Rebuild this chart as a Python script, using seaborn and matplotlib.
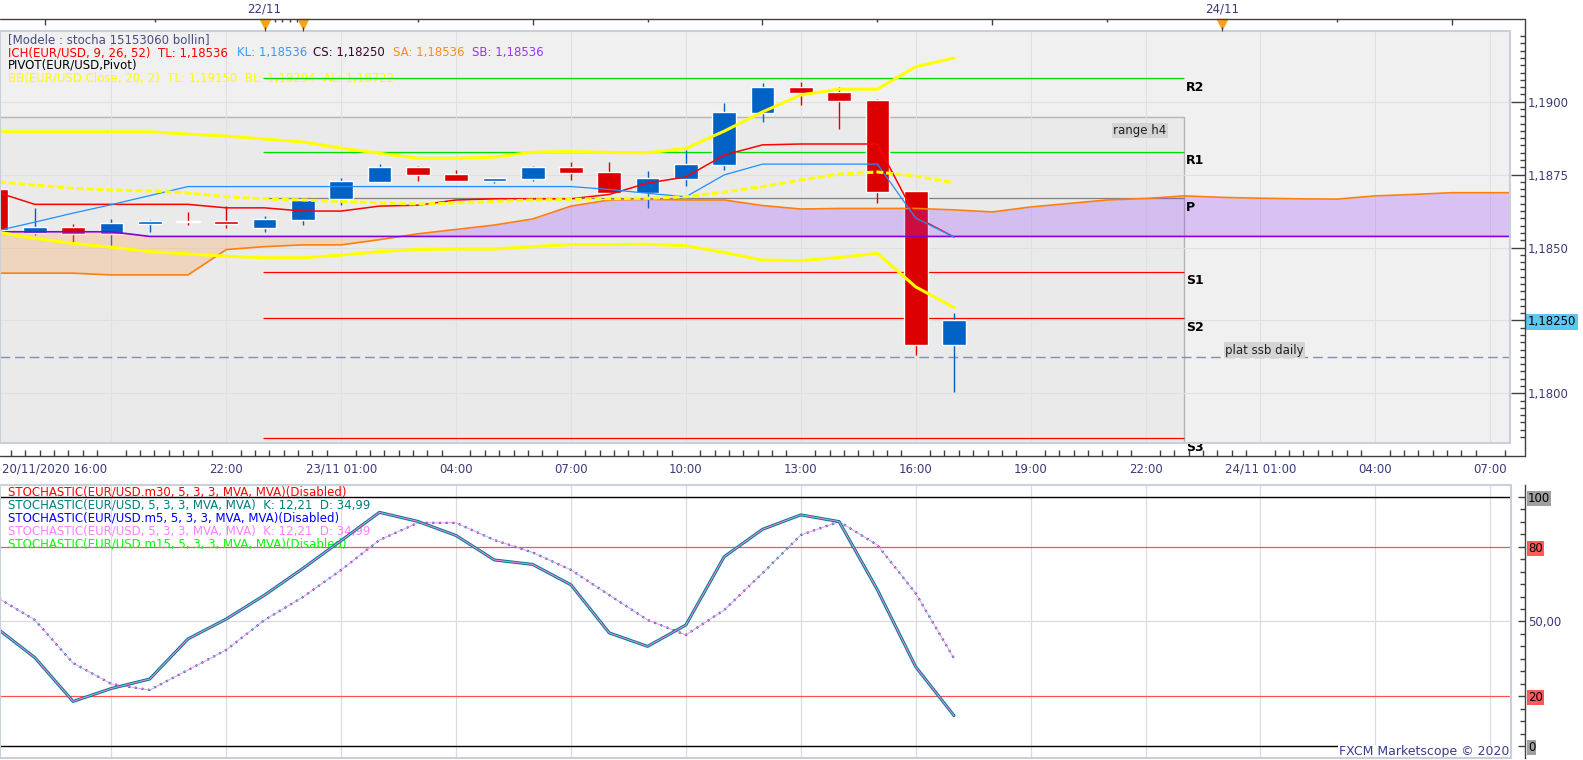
import numpy as np
import matplotlib
matplotlib.use("Agg")
import matplotlib.pyplot as plt
import seaborn as sns
from matplotlib.patches import Rectangle
from matplotlib.lines import Line2D
from matplotlib.ticker import MultipleLocator, FixedLocator

sns.set_theme(style="white")
plt.rcParams['font.family'] = ['DejaVu Sans']

# hourly EUR/USD bars, bar 0 = 20/11/2020 16:00 ... bar 25 = 23/11 17:00
opens = [1.18701, 1.18551, 1.18570, 1.18547, 1.18582, 1.18591, 1.18591, 1.18568, 1.18595, 1.18665,
         1.18726, 1.18776, 1.18752, 1.18729, 1.18735, 1.18776, 1.18759, 1.18688, 1.18735, 1.18783,
         1.18962, 1.19050, 1.19033, 1.19006, 1.18694, 1.18166]
highs = [1.18705, 1.18636, 1.18581, 1.18598, 1.18593, 1.18622, 1.18642, 1.18608, 1.18667, 1.18738,
         1.18786, 1.18778, 1.18766, 1.18740, 1.18778, 1.18793, 1.18794, 1.18762, 1.18834, 1.18997,
         1.19064, 1.19068, 1.19049, 1.19009, 1.18694, 1.18274]
lows = [1.18555, 1.18543, 1.18520, 1.18506, 1.18554, 1.18577, 1.18568, 1.18554, 1.18578, 1.18647,
        1.18725, 1.18728, 1.18728, 1.18722, 1.18729, 1.18731, 1.18682, 1.18636, 1.18711, 1.18766,
        1.18930, 1.18989, 1.18906, 1.18652, 1.18131, 1.18006]
closes = [1.18560, 1.18570, 1.18547, 1.18584, 1.18591, 1.18587, 1.18582, 1.18598, 1.18663, 1.18728,
          1.18776, 1.18750, 1.18729, 1.18738, 1.18776, 1.18757, 1.18688, 1.18738, 1.18786, 1.18965,
          1.19050, 1.19031, 1.19002, 1.18690, 1.18166, 1.18250]

# ichimoku
tenkan = [1.18690, 1.18648, 1.18648, 1.18648, 1.18648, 1.18648, 1.18636, 1.18636, 1.18625, 1.18625,
          1.18642, 1.18645, 1.18663, 1.18667, 1.18667, 1.18667, 1.18682, 1.18721, 1.18742, 1.18817,
          1.18852, 1.18855, 1.18855, 1.18855, 1.18605, 1.18536]
kijun = [1.18557, 1.18587, 1.18618, 1.18647, 1.18678, 1.18709, 1.18709, 1.18709, 1.18709, 1.18709,
         1.18709, 1.18709, 1.18709, 1.18709, 1.18709, 1.18709, 1.18699, 1.18686, 1.18674, 1.18749,
         1.18786, 1.18786, 1.18786, 1.18786, 1.18601, 1.18536]
span_a = [1.18412, 1.18412, 1.18412, 1.18406, 1.18406, 1.18406, 1.18493, 1.18503, 1.18509, 1.18509,
          1.18527, 1.18547, 1.18562, 1.18577, 1.18598, 1.18642, 1.18663, 1.18665, 1.18663, 1.18663,
          1.18644, 1.18632, 1.18634, 1.18634, 1.18634, 1.18629, 1.18622, 1.18639, 1.18651, 1.18663,
          1.18668, 1.18677, 1.18672, 1.18669, 1.18667, 1.18666, 1.18677, 1.18682, 1.18688, 1.18688,
          1.18688]
span_b = [1.18554, 1.18554, 1.18554, 1.18554, 1.18538, 1.18538, 1.18538, 1.18538, 1.18538, 1.18538,
          1.18538, 1.18538, 1.18538, 1.18538, 1.18538, 1.18538, 1.18538, 1.18538, 1.18538, 1.18538,
          1.18538, 1.18538, 1.18538, 1.18538, 1.18538, 1.18538, 1.18538, 1.18538, 1.18538, 1.18538,
          1.18538, 1.18538, 1.18538, 1.18538, 1.18538, 1.18538, 1.18538, 1.18538, 1.18538, 1.18538,
          1.18538]

# bollinger 20,2
bb_up = [1.18897, 1.18897, 1.18897, 1.18897, 1.18897, 1.18889, 1.18882, 1.18872, 1.18862, 1.18841,
         1.18823, 1.18806, 1.18806, 1.18810, 1.18827, 1.18829, 1.18826, 1.18825, 1.18840, 1.18899,
         1.18965, 1.19023, 1.19043, 1.19043, 1.19120, 1.19150]
bb_mid = [1.18726, 1.18714, 1.18703, 1.18697, 1.18694, 1.18687, 1.18674, 1.18667, 1.18663, 1.18658,
          1.18653, 1.18649, 1.18653, 1.18658, 1.18663, 1.18665, 1.18668, 1.18669, 1.18674, 1.18690,
          1.18709, 1.18731, 1.18752, 1.18759, 1.18745, 1.18722]
bb_low = [1.18554, 1.18531, 1.18514, 1.18501, 1.18486, 1.18478, 1.18470, 1.18465, 1.18465, 1.18474,
          1.18486, 1.18493, 1.18495, 1.18495, 1.18503, 1.18510, 1.18510, 1.18511, 1.18506, 1.18483,
          1.18457, 1.18455, 1.18466, 1.18480, 1.18365, 1.18294]

pivot_names = ['R2', 'R1', 'P', 'S1', 'S2', 'S3']
pivot_levels = [1.19080, 1.18829, 1.18669, 1.18417, 1.18257, 1.17846]
pivot_colors = ['#00dd00', '#00dd00', '#808080', '#ff0000', '#ff0000', '#ff0000']
ssb_daily = 1.18123

# stochastic 5,3,3
stoch_k = [47.4, 35.5, 17.9, 23.1, 26.9, 43.0, 51.0, 60.6, 71.3, 82.5,
           93.8, 90.2, 84.5, 74.7, 72.9, 64.7, 45.4, 40.0, 48.6, 76.0,
           87.0, 92.8, 90.1, 62.7, 31.8, 12.2]
stoch_d = [59.8, 50.6, 33.3, 24.9, 22.5, 30.5, 38.6, 50.6, 59.8, 70.7,
           82.7, 89.6, 89.6, 82.7, 77.7, 70.7, 60.6, 50.6, 44.6, 54.6,
           69.4, 84.7, 90.1, 80.7, 61.3, 35.2]

time_ticks = [3, 6, 9, 12, 15, 18, 21, 24, 27, 30, 33, 36, 39]
time_labels = ['', '22:00', '23/11 01:00', '04:00', '07:00', '10:00', '13:00', '16:00',
               '19:00', '22:00', '24/11 01:00', '04:00', '07:00']
price_ticks = [1.18, 1.1825, 1.185, 1.1875, 1.19]
price_labels = ['1,1800', '1,18250', '1,1850', '1,1875', '1,1900']
stoch_ticks = [0, 20, 50, 80, 100]
stoch_labels = ['0', '20', '50,00', '80', '100']

bars = np.arange(len(opens))
cloud_x = np.arange(len(span_a))

W, H = 1583, 760
def box(x0, y0, x1, y1):
    return [x0 / W, 1 - y1 / H, (x1 - x0) / W, (y1 - y0) / H]

fig = plt.figure(figsize=(W / 100, H / 100), dpi=100)
fig.patch.set_facecolor('white')
ax = fig.add_axes(box(0, 31, 1510, 443))
ax2 = fig.add_axes(box(0, 485, 1511, 758))

navy = '#3a3a78'
frame = '#404040'
fs = 8.5

# ---------------- price panel
ax.set_facecolor('#f0f0f0')
ax.set_axisbelow(True)
ax.add_patch(Rectangle((-1, 1.17), 32.0, 1.18948 - 1.17, fc='#eaeaea', ec='#b4b4b4', lw=1, zorder=0.3))

for lvl, col in zip(pivot_levels, pivot_colors):
    ax.hlines(lvl, 6.95, 31.0, color=col, lw=0.9, zorder=1.8)
ax.axhline(ssb_daily, color='#8090b0', lw=1, ls=(0, (7, 3.5)), zorder=1.8)

ohlc_col = ['#0062c4' if cl >= op else '#dd0000' for op, cl in zip(opens, closes)]
body_lo = np.minimum(opens, closes)
body_h = np.maximum(np.abs(np.array(closes) - np.array(opens)), 0.00005)
ax.vlines(bars, lows, highs, colors=ohlc_col, lw=1, zorder=1.9)
ax.bar(bars, body_h, bottom=body_lo, width=0.62, color=ohlc_col, zorder=2)

sa = np.array(span_a); sb = np.array(span_b)
ax.fill_between(cloud_x, sa, sb, where=sa >= sb, interpolate=True, color='#963aff', alpha=0.25, lw=0, zorder=3)
ax.fill_between(cloud_x, sa, sb, where=sa < sb, interpolate=True, color='#ff9a3a', alpha=0.25, lw=0, zorder=3)
sns.lineplot(x=cloud_x, y=span_a, ax=ax, color='#ff7f0e', lw=1.2, zorder=4)
sns.lineplot(x=cloud_x, y=span_b, ax=ax, color='#7f00e0', lw=1.2, zorder=4)
sns.lineplot(x=bars, y=tenkan, ax=ax, color='#ff0000', lw=1.1, zorder=5)
sns.lineplot(x=bars, y=kijun, ax=ax, color='#1e8fff', lw=0.9, zorder=5)
sns.lineplot(x=bars, y=bb_up, ax=ax, color='#ffff00', lw=2.2, zorder=6)
sns.lineplot(x=bars, y=bb_low, ax=ax, color='#ffff00', lw=2.2, zorder=6)
ax.plot(bars, bb_mid, color='#ffff00', lw=2.2, ls=(0, (2.2, 1.0)), zorder=6)

for name, lvl in zip(pivot_names, pivot_levels):
    t = ax.annotate(name, (31.0, lvl), xytext=(1.5, -6.5), textcoords='offset points',
                    va='center', ha='left', fontsize=9, fontweight='bold', color='black',
                    annotation_clip=False, zorder=7)
    t.set_clip_on(True)

ax.text(30.55, 1.18901, 'range h4', ha='right', va='center', fontsize=fs, color='#202020',
        bbox=dict(fc='#d4d4d4', ec='none', pad=1.0), zorder=7)
ax.text(33.1, 1.18148, 'plat ssb daily', ha='center', va='center', fontsize=fs, color='#202020',
        bbox=dict(fc='#d4d4d4', ec='none', pad=1.0), zorder=7)

ax.set_xlim(3.5 / 38.3, 1513.5 / 38.3)
ax.set_ylim(1.178296, 1.192425)
ax.set_xlabel('')
ax.set_ylabel('')

for s in ['left', 'top']:
    ax.spines[s].set_visible(False)
ax.spines['right'].set_position(('outward', 15 * 0.72))
ax.spines['bottom'].set_position(('outward', 13 * 0.72))
ax.spines['right'].set_visible(False)
ax.spines['bottom'].set_visible(False)

ax.yaxis.tick_right()
ax.set_yticks(price_ticks)
ax.set_yticklabels(price_labels)
ax.yaxis.set_minor_locator(MultipleLocator(0.00025))
ax.tick_params(axis='y', which='major', direction='in', length=10, width=1, color=frame,
               labelcolor=navy, labelsize=fs, pad=2)
ax.tick_params(axis='y', which='minor', direction='in', length=3.6, width=1, color=frame, right=True)
ax.get_yticklabels()[1].set_bbox(dict(fc='#5bc8f5', ec='none', pad=1))
ax.get_yticklabels()[1].set_color('black')

ax.set_xticks(time_ticks)
ax.set_xticklabels(time_labels)
ax.xaxis.set_minor_locator(MultipleLocator(0.375))
ax.tick_params(axis='x', which='major', direction='in', length=9.4, width=1, color=frame,
               labelcolor=navy, labelsize=fs, pad=5)
ax.tick_params(axis='x', which='minor', direction='in', length=4.3, width=1, color=frame, bottom=True)
ax.grid(True, which='major', color='#e0e0e0', lw=0.8)
ax.add_patch(Rectangle((0, 0), 1, 1, transform=ax.transAxes, fill=False, ec='#c8d0da', lw=1.5,
                       clip_on=False, zorder=8))

fig.text(2 / W, 1 - 469 / H, '20/11/2020 16:00', ha='left', va='center', fontsize=fs, color=navy)

# top date axis
sec = ax.secondary_xaxis(1 + 12 / 412)
for s in sec.spines.values():
    s.set_visible(False)
sec.set_xticks([1.27, 14, 20, 26, 38])
sec.set_xticklabels([''] * 5)
sec.xaxis.set_minor_locator(FixedLocator([4.14, 7.27, 7.45, 7.66, 7.85, 11, 17, 23, 29, 35]))
sec.tick_params(which='major', direction='in', length=4.3, width=1, color=frame)
sec.tick_params(which='minor', direction='in', length=2.4, width=1, color=frame)
xt = ax.get_xaxis_transform()
for d, lab in [(7, '22/11'), (32, '24/11')]:
    ax.text(d, 1 + 22 / 412, lab, transform=xt, ha='center', va='center', fontsize=fs, color=navy,
            clip_on=False)
ax.plot([7, 8, 32], [1 + 7.5 / 412] * 3, ls='none', marker='v', ms=6.5, color='#f5a020',
        transform=xt, clip_on=False, zorder=10)
ax.vlines([7, 8, 32], 1.0, 1 + 4 / 412, transform=xt, colors=frame, lw=0.8, clip_on=False, zorder=10)

# frame around price panel
for xs, ys in [([0, 1525], [19, 19]), ([1525, 1525], [19, 456]), ([0, 1525], [456, 456])]:
    fig.add_artist(Line2D([x / W for x in xs], [1 - y / H for y in ys], color=frame, lw=1))

# legend lines of the price panel
def legend(axis, x, y, s, col):
    axis.text(x / W, 1 - y / H, s, transform=fig.transFigure, color=col, fontsize=fs,
              ha='left', va='center', zorder=1.7)

legend(ax, 8, 40, '[Modele : stocha 15153060 bollin]', '#4a4a80')
legend(ax, 8, 52.5, 'ICH(EUR/USD, 9, 26, 52)  TL: 1,18536', '#ff0000')
legend(ax, 237, 52.5, 'KL: 1,18536', '#3399ff')
legend(ax, 313, 52.5, 'CS: 1,18250', '#3c0032')
legend(ax, 393, 52.5, 'SA: 1,18536', '#ff8c1a')
legend(ax, 472, 52.5, 'SB: 1,18536', '#9933ff')
legend(ax, 8, 65, 'PIVOT(EUR/USD,Pivot)', '#000000')
legend(ax, 8, 78, 'BB(EUR/USD.Close, 20, 2)  TL: 1,19150  BL: 1,18294  AL: 1,18722', '#ffff00')

# ---------------- stochastic panel
ax2.set_facecolor('white')
ax2.set_axisbelow(True)
ax2.axhline(100, color='black', lw=1, zorder=1)
ax2.axhline(0, color='black', lw=1, zorder=1)
ax2.axhline(80, color='#ff5050', lw=0.9, zorder=1)
ax2.axhline(20, color='#ff5050', lw=0.9, zorder=1)
ax2.axhline(50, color='#dcdcdc', lw=0.9, zorder=0.5)

sns.lineplot(x=bars, y=stoch_k, ax=ax2, color='#008080', lw=2.2, zorder=4)
sns.lineplot(x=bars, y=stoch_k, ax=ax2, color='#ff80ff', lw=0.7, zorder=4.1)
ax2.plot(bars, stoch_d, color='#008080', lw=1.6, ls=(0, (1, 2)), zorder=3)
sns.lineplot(x=bars, y=stoch_d, ax=ax2, color='#ff80ff', lw=0.6, zorder=3.1)

legend(ax2, 8, 491.7, 'STOCHASTIC(EUR/USD.m30, 5, 3, 3, MVA, MVA)(Disabled)', '#ff0000')
legend(ax2, 8, 504.7, 'STOCHASTIC(EUR/USD, 5, 3, 3, MVA, MVA)  K: 12,21  D: 34,99', '#008080')
legend(ax2, 8, 518.3, 'STOCHASTIC(EUR/USD.m5, 5, 3, 3, MVA, MVA)(Disabled)', '#0000ff')
legend(ax2, 8, 531, 'STOCHASTIC(EUR/USD, 5, 3, 3, MVA, MVA)  K: 12,21  D: 34,99', '#ff80ff')
legend(ax2, 8, 544, 'STOCHASTIC(EUR/USD.m15, 5, 3, 3, MVA, MVA)(Disabled)', '#00ff00')

ax2.text(0.999, -2.4, 'FXCM Marketscope \u00a9 2020', transform=ax2.get_yaxis_transform(),
         ha='right', va='center', fontsize=9, color='#3c3c8c',
         bbox=dict(fc='white', ec='none', pad=0.6), zorder=6)

ax2.set_xlim(3.5 / 38.3, 1514.5 / 38.3)
ax2.set_ylim(-4.82, 104.8)
ax2.set_xlabel('')
ax2.set_ylabel('')
ax2.set_xticks(time_ticks)
ax2.tick_params(axis='x', bottom=False, labelbottom=False)
ax2.grid(True, axis='x', color='#dcdcdc', lw=0.9)
for s in ['left', 'top', 'bottom']:
    ax2.spines[s].set_visible(False)
ax2.spines['right'].set_position(('outward', 14 * 0.72))
ax2.spines['right'].set_color(frame)
ax2.spines['right'].set_linewidth(1)
ax2.yaxis.tick_right()
ax2.set_yticks(stoch_ticks)
ax2.set_yticklabels(stoch_labels)
ax2.yaxis.set_minor_locator(MultipleLocator(5))
ax2.tick_params(axis='y', which='major', direction='in', length=5, width=1, color=frame,
                labelcolor='black', labelsize=fs, pad=2)
ax2.tick_params(axis='y', which='minor', direction='in', length=3.6, width=1, color=frame, right=True)
box_cols = {'0': '#a0a0a0', '20': '#ff5a5a', '80': '#ff5a5a', '100': '#a0a0a0'}
for t in ax2.get_yticklabels():
    if t.get_text() in box_cols:
        t.set_bbox(dict(fc=box_cols[t.get_text()], ec='none', pad=0.8))
    else:
        t.set_color(navy)
ax2.add_patch(Rectangle((0, 0), 1, 1, transform=ax2.transAxes, fill=False, ec='#c8d0da', lw=1.5,
                        clip_on=False, zorder=8))

fig.savefig('out.png', dpi=100, facecolor='white')
